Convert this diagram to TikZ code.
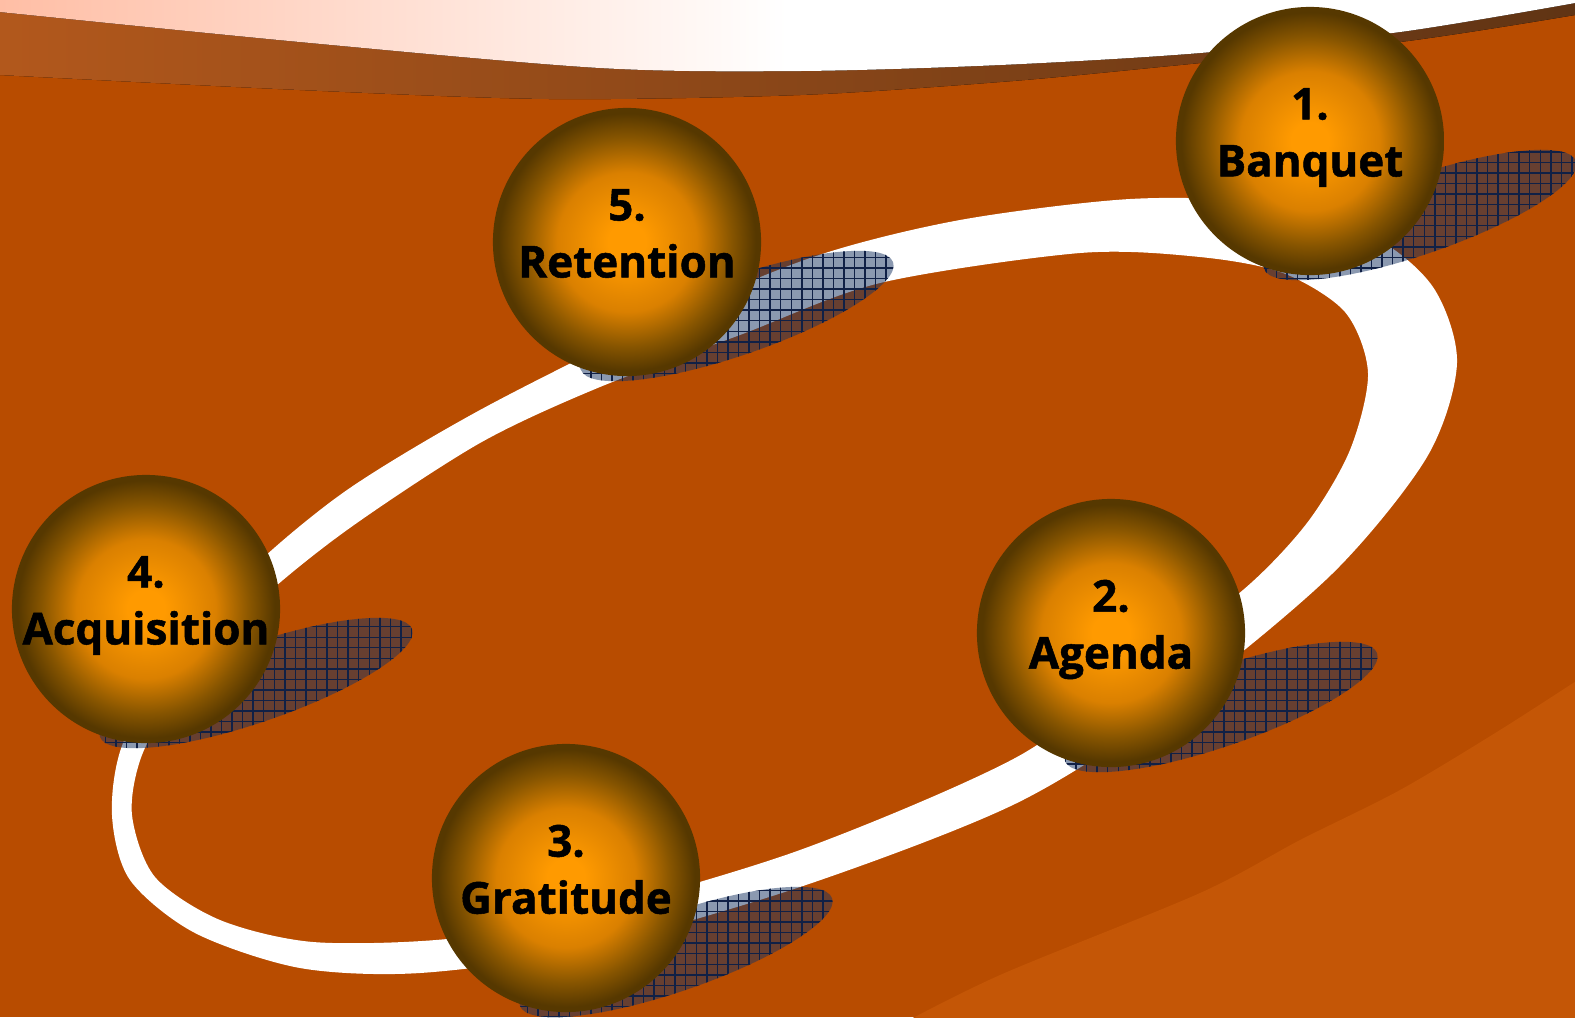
\documentclass[tikz,border=0pt]{standalone}
\usepackage{fontspec}
\setmainfont{Open Sans}[BoldFeatures={FakeBold=1.2}]
\usetikzlibrary{patterns}

\definecolor{clay}{RGB}{184,76,0}
\definecolor{claylight}{RGB}{196,86,6}
\definecolor{rimtop}{RGB}{178,88,28}
\definecolor{rimend}{RGB}{96,52,20}
\definecolor{blush}{RGB}{255,190,165}
\definecolor{shadowblue}{RGB}{24,52,98}
\definecolor{hatch}{RGB}{16,32,70}
\definecolor{ballhi}{RGB}{255,154,0}
\definecolor{ballmid}{RGB}{218,128,0}
\definecolor{balldark}{RGB}{135,85,0}
\definecolor{ballrim}{RGB}{86,56,0}

\pgfdeclareradialshading{ballshade}{\pgfpoint{0bp}{0bp}}{%
  color(0bp)=(ballhi); color(3.5bp)=(ballhi); color(13bp)=(ballmid);
  color(19.5bp)=(balldark); color(24bp)=(ballrim); color(50bp)=(ballrim)}

\tikzset{
  ball/.style={circle, minimum size=2.68cm, inner sep=0pt, shading=ballshade,
    align=center, text depth=5pt, font=\bfseries\fontsize{12.5}{16.2}\selectfont},
  shadespot/.style={fill=shadowblue, fill opacity=0.5},
  hatching/.style={pattern=grid, pattern color=hatch},
}

\begin{document}
\begin{tikzpicture}[x=0.01cm, y=-0.01cm]
\useasboundingbox (0,0) rectangle (1575,1017);
\clip (0,0) rectangle (1575,1017);
\fill[clay] (0,0) rectangle (1575,1017);
\fill[claylight] plot[smooth] coordinates {(890,1030) (1000,975) (1200,893) (1300,840) (1400,790) (1500,730) (1590,672)} -- (1590,1030) -- cycle;
\fill[left color=rimtop, right color=rimend] (0,0) -- plot[smooth] coordinates {(0,75) (300,90) (550,99) (800,95) (1000,82) (1150,68) (1400,42) (1575,15)} -- (1575,0) -- cycle;
\fill[left color=blush, right color=white, middle color=white] (0,0) -- plot[smooth] coordinates {(0,12) (300,42) (600,68) (800,71) (1000,65) (1200,53) (1400,32) (1575,3)} -- (1575,0) -- cycle;

\fill[white, even odd rule]
  plot[smooth cycle] coordinates {(112,815) (130,880) (195,933) (300,968) (420,973) (580,950) (800,887) (1017,803) (1180,700) (1333,573) (1427,457) (1457,363) (1433,287) (1370,235) (1260,203) (1130,199) (960,220) (813,257) (650,325) (480,410) (347,490) (250,570) (175,655) (123,743)}
  plot[smooth cycle] coordinates {(132,815) (155,877) (220,920) (313,942) (447,939) (580,915) (800,850) (1017,757) (1140,665) (1243,590) (1307,523) (1350,450) (1368,373) (1345,312) (1283,273) (1200,257) (1080,253) (880,283) (740,335) (600,387) (480,443) (347,530) (255,605) (180,690) (142,755)};

\foreach \px/\py in {1310/141, 627/242, 146/609, 1111/633, 566/878}{
  \fill[shadespot, rotate around={19:(\px+110,\py+74)}] (\px+110,\py+74) ellipse [x radius=1.65cm, y radius=0.39cm];
  \fill[hatching, rotate around={19:(\px+110,\py+74)}] (\px+110,\py+74) ellipse [x radius=1.65cm, y radius=0.39cm];
}

\node[ball] (banquet) at (1310,141) {1.\\Banquet};
\node[ball] (agenda) at (1111,633) {2.\\Agenda};
\node[ball] (gratitude) at (566,878) {3.\\Gratitude};
\node[ball] (acquisition) at (146,609) {4.\\Acquisition};
\node[ball] (retention) at (627,242) {5.\\Retention};
\end{tikzpicture}
\end{document}
